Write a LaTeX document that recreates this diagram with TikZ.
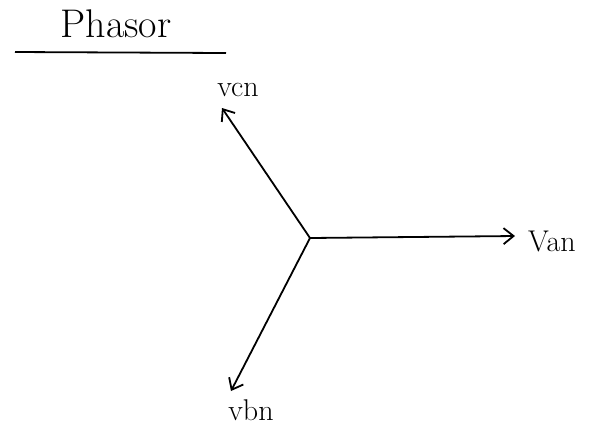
\documentclass[tikz,border=0pt]{standalone}
\usetikzlibrary{arrows.meta}
\begin{document}
\begin{tikzpicture}[x=0.5pt,y=-0.5pt,
  phasor/.style={line width=0.9pt,-{Straight Barb[length=5pt,width=8pt]}},
  lbl/.style={font=\fontsize{15}{18}\selectfont},
  ttl/.style={font=\fontsize{20}{24}\selectfont}]
\useasboundingbox (0,0) rectangle (600,425);
\coordinate (o) at (310,238);
\coordinate (a) at (515,236);
\coordinate (c) at (222,108);
\coordinate (b) at (231,391);
\draw[phasor] (o) -- (a);
\draw[phasor] (o) -- (c);
\draw[phasor] (o) -- (b);
\node[lbl] (van) at (552,241) {Van};
\node[lbl] (vcn) at (238,90) {vcn};
\node[lbl] (vbn) at (251,410) {vbn};
\node[ttl] (title) at (116,24) {Phasor};
\coordinate (u1) at (15,52);
\coordinate (u2) at (226,53);
\draw[line width=0.9pt] (u1) -- (u2);
\end{tikzpicture}
\end{document}
